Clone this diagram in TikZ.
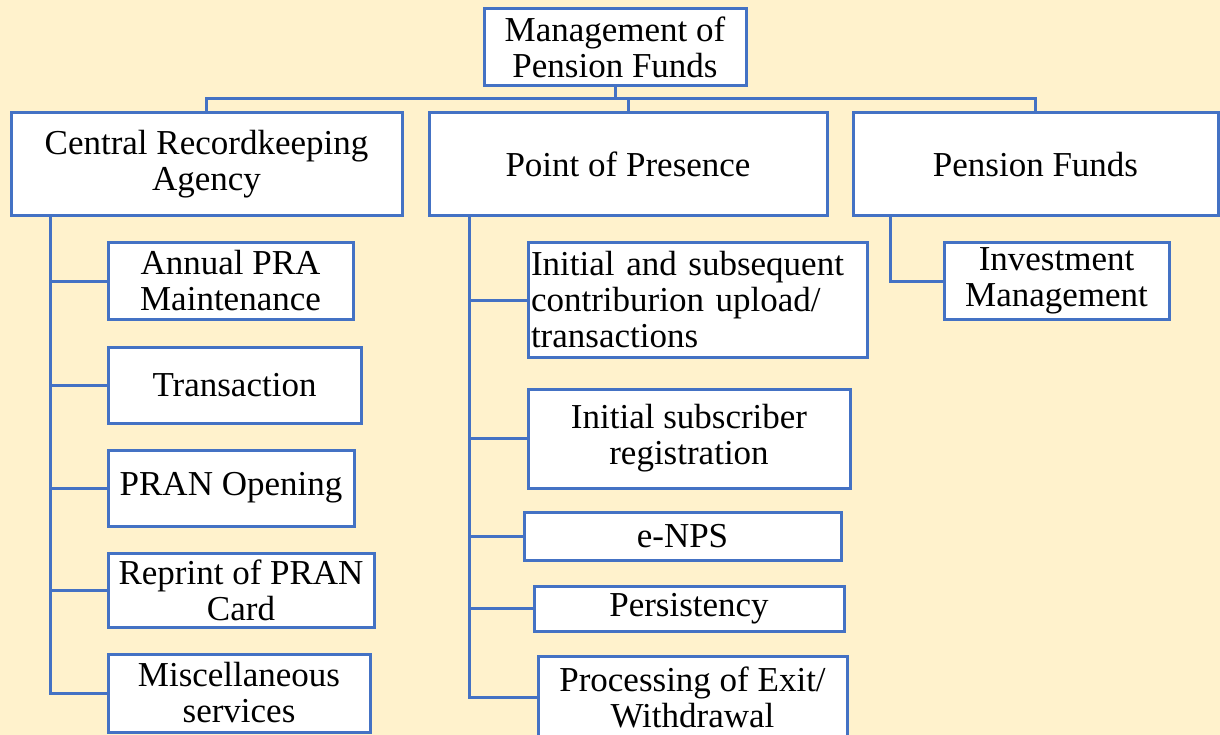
\documentclass[tikz,border=0pt]{standalone}
\usepackage{fontspec}
\setmainfont{Liberation Serif}
\definecolor{bg}{HTML}{FFF2CC}
\definecolor{ln}{HTML}{4472C4}
\tikzset{
  box/.style={draw=ln, line width=3pt, fill=white, inner sep=2pt, align=center,
    font=\fontsize{35}{36}\selectfont, text=black},
  conn/.style={draw=ln, line width=3pt}
}
\begin{document}
\begin{tikzpicture}[x=1pt,y=-1pt]
\useasboundingbox (0,0) rectangle (1220,735);
\fill[bg] (0,0) rectangle (1220,735);
\clip (0,0) rectangle (1220,735);
% top level
\node[box, minimum width=262, minimum height=77] (top) at (615,47.5) {Management of\\Pension Funds};
\node[box, minimum width=391, minimum height=103] (cra) at (206.5,164.5) {Central Recordkeeping\\Agency};
\node[box, minimum width=398, minimum height=103] (pop) at (628,164.5) {Point of Presence};
\node[box, minimum width=365, minimum height=103] (pf) at (1035.5,164.5) {Pension Funds};
% CRA children
\node[box, minimum width=245, minimum height=76] (annual) at (230.5,281) {Annual PRA\\Maintenance};
\node[box, minimum width=253, minimum height=76] (trans) at (234.5,385) {Transaction};
\node[box, minimum width=246, minimum height=76] (pran) at (231,488) {PRAN Opening};
\node[box, minimum width=266, minimum height=74] (reprint) at (241,590) {Reprint of PRAN\\Card};
\node[box, minimum width=262, minimum height=78] (misc) at (239,693) {Miscellaneous\\services};
% PoP children
\node[box, minimum width=339, minimum height=114, text width=333, align=left] (contrib) at (697.5,300) {Initial and subsequent\\contriburion upload/\\transactions};
\node[box, minimum width=322, minimum height=99] (subreg) at (689,438.5) {Initial subscriber\\registration};
\node[box, minimum width=317, minimum height=48] (enps) at (682.5,536) {e-NPS};
\node[box, minimum width=310, minimum height=45] (persist) at (689,608.5) {Persistency};
\node[box, minimum width=309, minimum height=82] (proc) at (692.5,697) {Processing of Exit/\\Withdrawal};
% PF child
\node[box, minimum width=225, minimum height=76] (inv) at (1056.5,281) {Investment\\Management};
% connectors
\coordinate (bus) at (0,99);
\coordinate (craT) at (50,0);
\coordinate (popT) at (469,0);
\coordinate (pfT) at (890,0);
\draw[conn] (top.south) -- (top.south |- bus);
\draw[conn] (cra.north) -- (cra.north |- bus) -- (pf.north |- bus) -- (pf.north);
\draw[conn] (pop.north) -- (pop.north |- bus);
\draw[conn] (cra.south -| craT) |- (misc.west);
\draw[conn] (craT |- annual.west) -- (annual.west);
\draw[conn] (craT |- trans.west) -- (trans.west);
\draw[conn] (craT |- pran.west) -- (pran.west);
\draw[conn] (craT |- reprint.west) -- (reprint.west);
\draw[conn] (pop.south -| popT) |- (proc.west);
\draw[conn] (popT |- contrib.west) -- (contrib.west);
\draw[conn] (popT |- subreg.west) -- (subreg.west);
\draw[conn] (popT |- enps.west) -- (enps.west);
\draw[conn] (popT |- persist.west) -- (persist.west);
\draw[conn] (pf.south -| pfT) |- (inv.west);
\end{tikzpicture}
\end{document}
